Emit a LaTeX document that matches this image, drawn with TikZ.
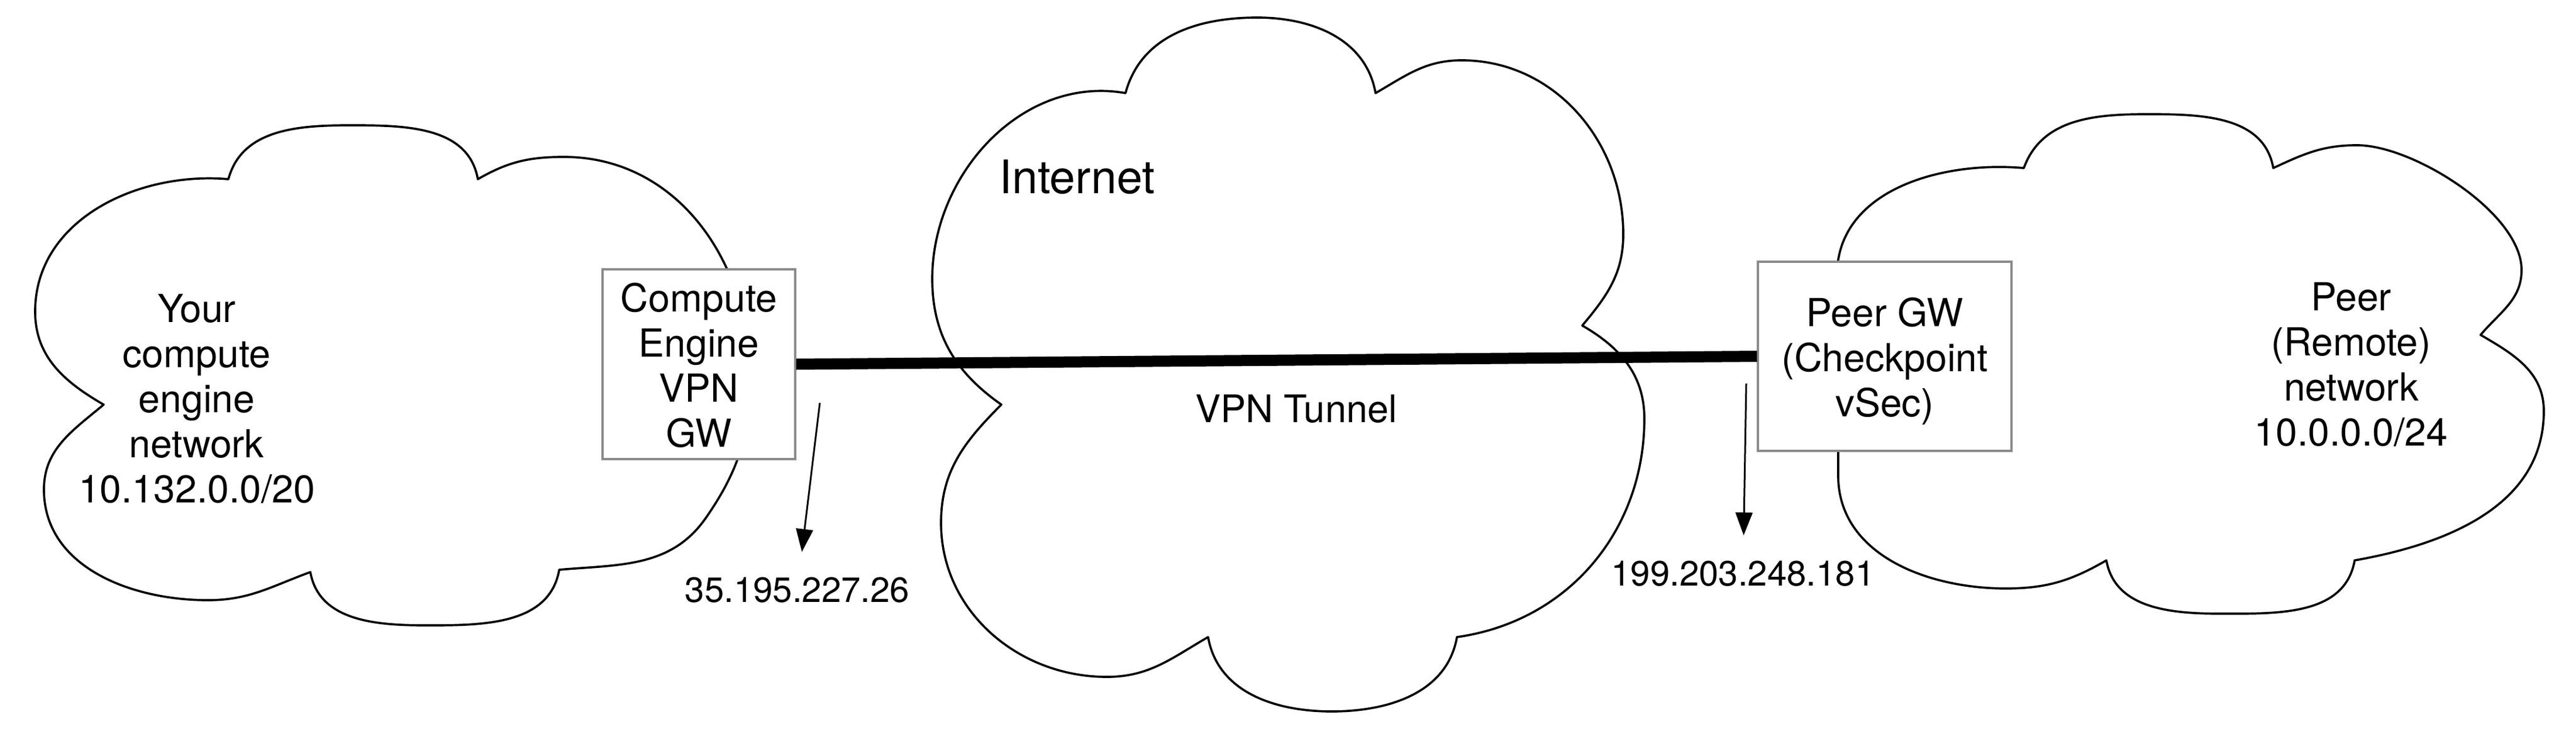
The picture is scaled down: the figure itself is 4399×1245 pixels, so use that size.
\documentclass[tikz,border=0pt]{standalone}
\usepackage{fontspec}
\setmainfont{TeX Gyre Heros}
\usetikzlibrary{arrows.meta}
\definecolor{boxgray}{RGB}{138,138,138}
\begin{document}
\begin{tikzpicture}[x=1pt,y=-1pt,
  cloudline/.style={draw=black,line width=3.7pt,line join=round},
  gwbox/.style={draw=boxgray,line width=3.2pt,fill=white,inner sep=0pt,rectangle},
  maintext/.style={font=\fontsize{66}{77}\selectfont,align=center,inner sep=0pt},
  iptext/.style={font=\fontsize{60}{70}\selectfont,inner sep=0pt},
  nettext/.style={font=\fontsize{79}{90}\selectfont,inner sep=0pt},
  tunneltext/.style={font=\fontsize{65}{75}\selectfont,inner sep=0pt},
  tunnel/.style={line width=19pt},
  iparrow/.style={line width=3pt,-{Triangle[length=39pt,width=29pt]}}]
\useasboundingbox (0,0) rectangle (4399,1245);

% left cloud
\draw[cloudline] (390,306)
 to[out=75,in=180] (598,214)
 to[out=0,in=100] (816,306)
 to[out=30,in=180] (963,268)
 to[out=0,in=95] (1278,600)
 to[out=-85,in=55] (1205,885)
 to[out=-125,in=5] (955,973)
 to[out=-100,in=0] (729,1068)
 to[out=180,in=-80] (530,977)
 to[out=-160,in=0] (355,1025)
 to[out=180,in=-90] (75,836)
 to[out=90,in=-140] (177,691)
 to[out=150,in=-90] (60,532)
 to[out=90,in=175] (390,306) -- cycle;

% internet cloud
\draw[cloudline] (1922,159)
 to[out=75,in=180] (2147,30)
 to[out=0,in=100] (2349,159)
 to[out=30,in=180] (2496,103)
 to[out=0,in=90] (2772,400)
 to[out=-90,in=50] (2702,556)
 to[out=-30,in=90] (2808,715)
 to[out=-90,in=8] (2488,1088)
 to[out=-100,in=0] (2274,1215)
 to[out=180,in=-80] (2063,1088)
 to[out=-150,in=0] (1890,1156)
 to[out=180,in=-90] (1607,893)
 to[out=90,in=-135] (1710,691)
 to[out=145,in=-90] (1592,476)
 to[out=90,in=170] (1922,159) -- cycle;

% right cloud
\draw[cloudline] (3456,287)
 to[out=70,in=180] (3667,195)
 to[out=0,in=100] (3882,287)
 to[out=25,in=180] (4025,248)
 to[out=0,in=90,looseness=0.7] (4306,461)
 to[out=-90,in=50] (4236,572)
 to[out=-30,in=90] (4344,702)
 to[out=-90,in=10] (4021,957)
 to[out=-100,in=0] (3791,1048)
 to[out=180,in=-80] (3597,957)
 to[out=-150,in=0] (3425,1005)
 to[out=180,in=-90] (3139,812)
 to[out=90,in=-90] (3137,470)
 to[out=90,in=175] (3456,287) -- cycle;

% gateway boxes
\node[gwbox,minimum width=329pt,minimum height=324pt] (gw1) at (1193.5,622) {};
\node[gwbox,minimum width=433pt,minimum height=323pt] (gw2) at (3218.5,608.5) {};

% tunnel
\draw[tunnel] (gw1.east) -- (gw2.west);

% texts
\node[maintext] (gw1t) at (1193.5,623.5) {Compute\\Engine\\VPN\\GW};
\node[maintext] (gw2t) at (3218.5,616.5) {Peer GW\\(Checkpoint\\vSec)};
\node[maintext] (lnet) at (336,681) {Your\\compute\\engine\\network\\10.132.0.0/20};
\node[maintext] (rnet) at (4015,622.5) {Peer\\(Remote)\\network\\10.0.0.0/24};
\node[nettext,anchor=base west] (inet) at (1706,330) {Internet};
\node[tunneltext,anchor=base] (vpnt) at (2213.5,721) {VPN Tunnel};
\node[iptext,anchor=base] (ip1) at (1361.5,1028) {35.195.227.26};
\node[iptext,anchor=base] (ip2) at (2976.5,1000) {199.203.248.181};

% ip arrows
\coordinate (a1) at (1400,688);
\coordinate (a2) at (2982,655);
\draw[iparrow,shorten >=43pt] (a1) -- (ip1);
\draw[iparrow,shorten >=43pt] (a2) -- (ip2);
\end{tikzpicture}
\end{document}
